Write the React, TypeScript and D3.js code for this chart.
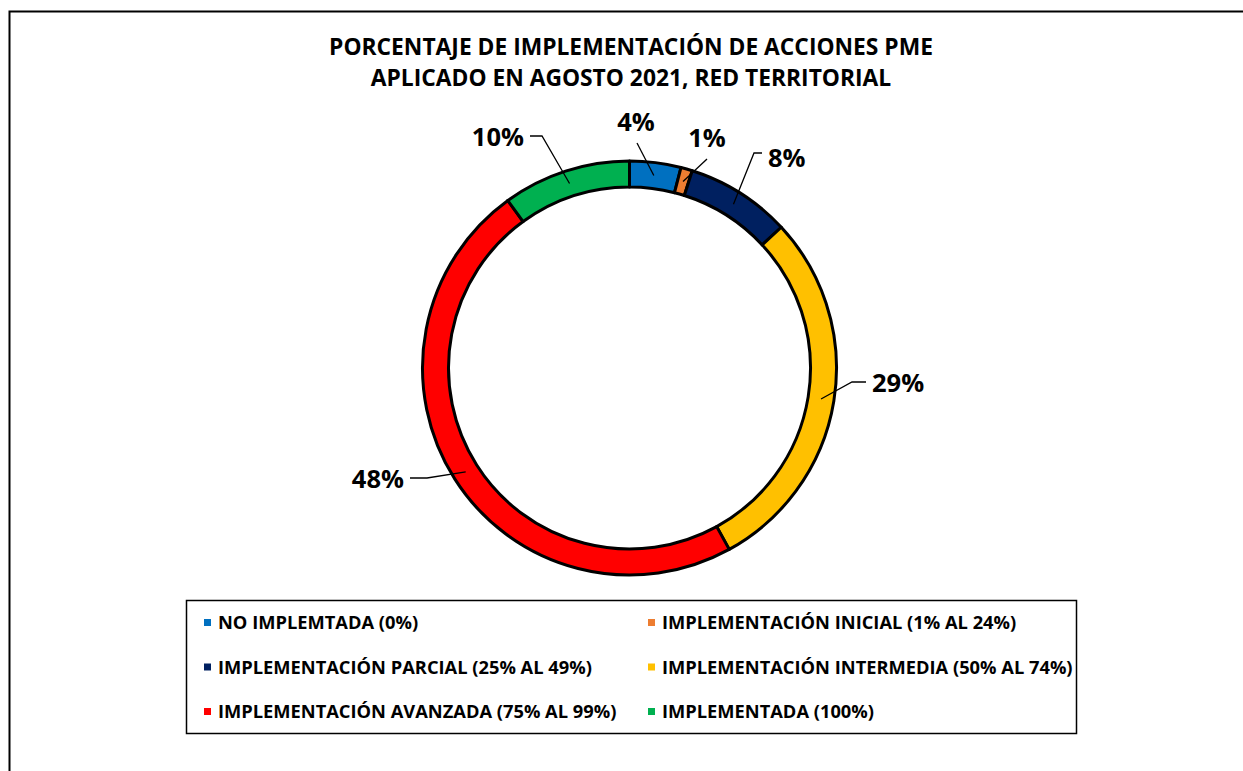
import React, {useRef, useEffect} from 'react'
import * as d3 from 'd3'

// readings from the picture (percent of actions)
const categories = [
    'NO IMPLEMTADA (0%)',
    'IMPLEMENTACIÓN INICIAL (1% AL 24%)',
    'IMPLEMENTACIÓN PARCIAL (25% AL 49%)',
    'IMPLEMENTACIÓN INTERMEDIA (50% AL 74%)',
    'IMPLEMENTACIÓN AVANZADA (75% AL 99%)',
    'IMPLEMENTADA (100%)',
]
const values = [4.0, 0.9, 8.2, 28.9, 48.0, 10.0]
const colors = ['#0070C0', '#ED7D31', '#002060', '#FFC000', '#FF0000', '#00B050']
const titleLines = [
    'PORCENTAJE DE IMPLEMENTACIÓN DE ACCIONES PME',
    'APLICADO EN AGOSTO 2021, RED TERRITORIAL',
]

// label placement: text centre and leader elbow
const labelLayout = [
    {tx: 636, ty: 122, ex: 637, ey: 143, anchor: 'middle'},
    {tx: 707, ty: 138, ex: 707, ey: 159, anchor: 'middle'},
    {tx: 768, ty: 158, ex: 754, ey: 153, anchor: 'start'},
    {tx: 872, ty: 383, ex: 852, ey: 382, anchor: 'start'},
    {tx: 404, ty: 479, ex: 427, ey: 478, anchor: 'end'},
    {tx: 524, ty: 137, ex: 542, ey: 136, anchor: 'end'},
]
// legend order: rows of two
const legendOrder = [0, 1, 2, 3, 4, 5]

const W = 1243
const H = 771
const FONT = '"Open Sans", Lato, sans-serif'

const App = () => {
    const svgRef = useRef<SVGSVGElement>(null)

    useEffect(() => {
        const svg = d3.select(svgRef.current)
        svg.selectAll('*').remove()

        // chart frame (right and bottom edges are off the picture)
        svg.append('rect')
            .attr('x', 9.5).attr('y', 11.5)
            .attr('width', 1300).attr('height', 900)
            .attr('fill', '#fff').attr('stroke', '#000').attr('stroke-width', 2)

        svg.append('g').selectAll('text')
            .data(titleLines)
            .join('text')
            .attr('x', 631)
            .attr('y', (d, i) => 55 + i * 31)
            .attr('text-anchor', 'middle')
            .attr('font-family', FONT)
            .attr('font-weight', 700)
            .attr('font-size', 22.8)
            .text(d => d)

        const cx = 629.5
        const cy = 368
        const outerR = 207
        const innerR = 181

        const pie = d3.pie<number>().sort(null).value(d => d)
        const arcs = pie(values)
        const arc = d3.arc<d3.PieArcDatum<number>>().innerRadius(innerR).outerRadius(outerR)
        const mid = d3.arc<d3.PieArcDatum<number>>().innerRadius(194).outerRadius(194)

        const g = svg.append('g').attr('transform', `translate(${cx},${cy})`)
        g.selectAll('path')
            .data(arcs)
            .join('path')
            .attr('d', arc)
            .attr('fill', (d, i) => colors[i])
            .attr('stroke', '#000')
            .attr('stroke-width', 3)
            .attr('stroke-linejoin', 'round')

        // leader lines + labels
        const lab = svg.append('g')
        arcs.forEach((a, i) => {
            const [px, py] = mid.centroid(a)
            const L = labelLayout[i]
            const pts: [number, number][] = [[cx + px, cy + py], [L.ex, L.ey]]
            if (L.anchor === 'start') pts.push([L.tx - 6, L.ey])
            if (L.anchor === 'end') pts.push([L.tx + 6, L.ey])
            lab.append('path')
                .attr('d', d3.line()(pts))
                .attr('fill', 'none')
                .attr('stroke', '#000')
                .attr('stroke-width', 1.3)
            lab.append('text')
                .attr('x', L.tx)
                .attr('y', L.ty)
                .attr('dy', '0.36em')
                .attr('text-anchor', L.anchor)
                .attr('font-family', FONT)
                .attr('font-weight', 700)
                .attr('font-size', 25.5)
                .text(Math.round(values[i]) + '%')
        })

        // legend
        const leg = svg.append('g')
        leg.append('rect')
            .attr('x', 186.5).attr('y', 600.5)
            .attr('width', 890).attr('height', 133)
            .attr('fill', '#fff').attr('stroke', '#000').attr('stroke-width', 1.5)
        const colX = [204, 648]
        legendOrder.forEach((k, j) => {
            const col = j % 2
            const row = Math.floor(j / 2)
            const base = 629 + row * 44.5
            leg.append('rect')
                .attr('x', colX[col]).attr('y', base - 10)
                .attr('width', 7).attr('height', 7)
                .attr('fill', colors[k])
            leg.append('text')
                .attr('x', colX[col] + 14)
                .attr('y', base)
                .attr('font-family', FONT)
                .attr('font-weight', 700)
                .attr('font-size', 18.3)
                .text(categories[k])
        })
    }, [])

    return (
        <svg ref={svgRef} width={W} height={H} viewBox={`0 0 ${W} ${H}`}
             style={{position: 'absolute', left: 0, top: 0, background: '#fff'}} />
    )
}

export default App
